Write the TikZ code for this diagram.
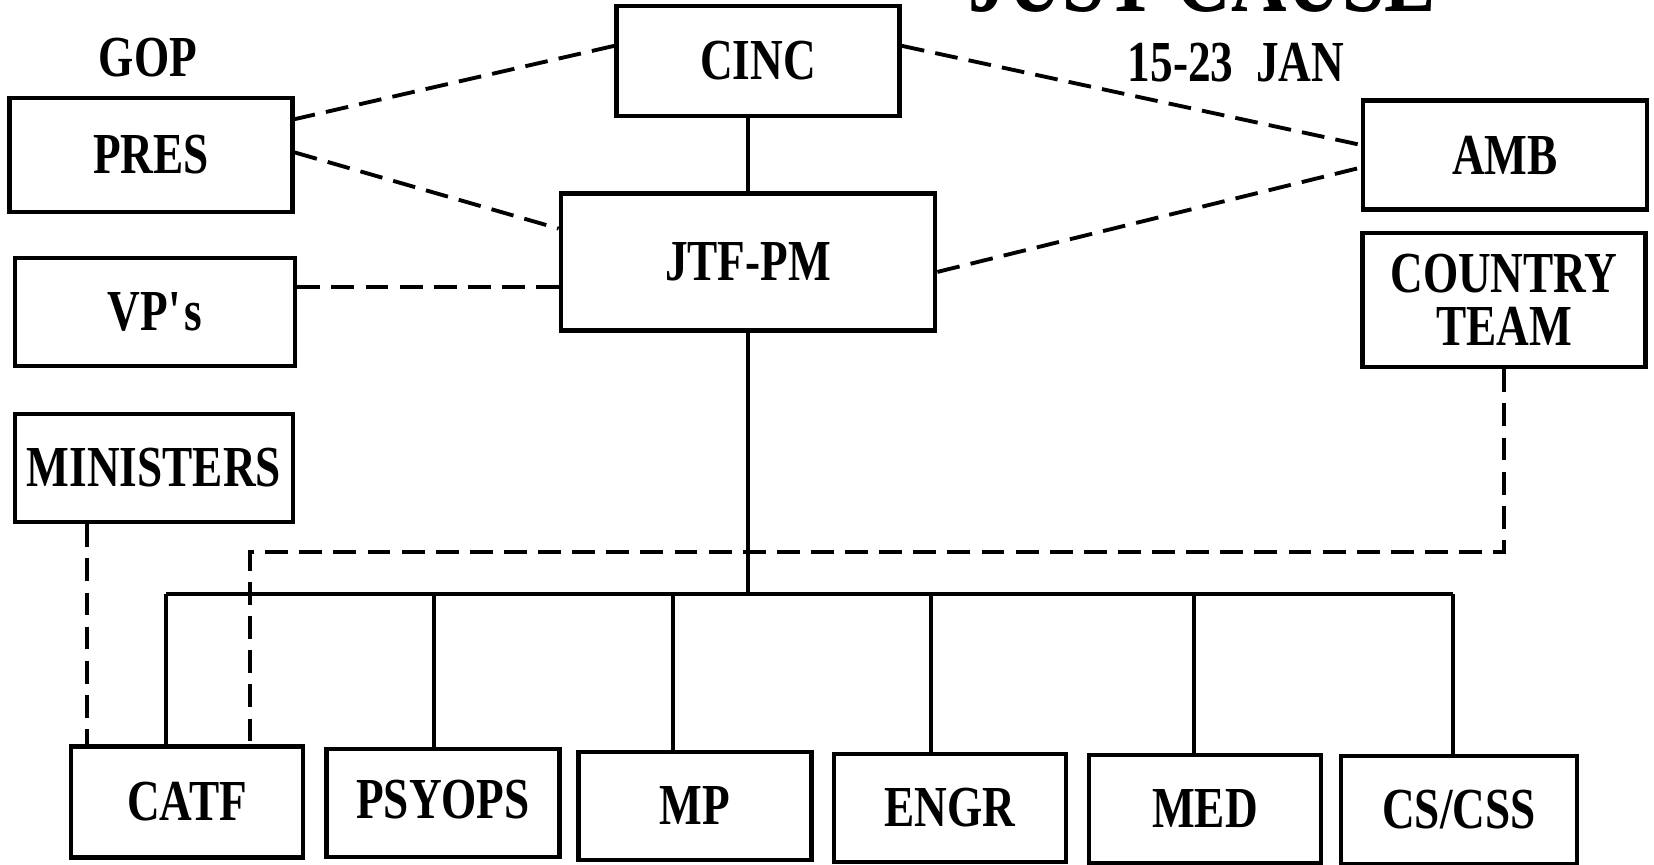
\documentclass[tikz,border=0pt]{standalone}
\usepackage{fontspec}
\setmainfont{Liberation Serif}[FakeStretch=0.78]
\usetikzlibrary{positioning}

\begin{document}
\begin{tikzpicture}[x=0.01cm, y=-0.01cm]
		\useasboundingbox (0,0) rectangle (1654,865);
		% labels
		\node[anchor=base west, inner sep=0pt, font=\bfseries\fontsize{28}{30}\selectfont] (title) at (968,12) {JUST CAUSE};
		\node[font=\bfseries\fontsize{16.5}{18}\selectfont] (gop) at (148,58) {GOP};
		\node[font=\bfseries\fontsize{16.5}{18}\selectfont] (date) at (1236,63) {15-23\ \ JAN};
		\begin{scope}[every node/.style={draw, line width=1.3pt, inner sep=0pt, align=center, minimum width=2.8cm, minimum height=1.08cm, font=\bfseries\fontsize{16.5}{15.2}\selectfont}]
			\node[minimum width=2.83cm, minimum height=1.10cm] (cinc) at (758,61) {CINC};
			\node[minimum width=2.83cm, minimum height=1.14cm] (pres) at (151,155) {PRES};
			\node (vps) at (155,312) {VP\textquotesingle s};
			\node[minimum width=2.78cm] (min) at (154,468) {MINISTERS};
			\node[minimum width=3.74cm, minimum height=1.37cm] (jtf) at (748,262) {JTF-PM};
			\node[minimum width=2.84cm, minimum height=1.09cm] (amb) at (1505,155) {AMB};
			\node[minimum width=2.83cm, minimum height=1.34cm] (ct) at (1504,300) {COUNTRY\\TEAM};
			\node[minimum width=2.32cm, minimum height=1.11cm] (catf) at (187,802) {CATF};
			\node[minimum width=2.33cm] (psyops) at (443,803) {\raisebox{2pt}{PSYOPS}};
			\node[minimum width=2.33cm] (mp) at (695,806) {MP};
			\node[minimum width=2.32cm] (engr) at (950,808) {ENGR};
			\node[minimum width=2.32cm] (med) at (1205,809) {MED};
			\node[minimum width=2.36cm] (css) at (1459,810) {CS/CSS};
		\end{scope}
		% command lines
		\begin{scope}[every path/.style={line width=1.2pt}]
			\coordinate (b1) at (166,594);
			\coordinate (b2) at (434,594);
			\coordinate (b3) at (673,594);
			\coordinate (b4) at (931,594);
			\coordinate (b5) at (1194,594);
			\coordinate (b6) at (1453,594);
			\draw (jtf.north) -- (jtf.north |- cinc.south);
			\draw (jtf.south) -- (jtf.south |- b1);
			\draw (b1) -- (b6);
			\draw (b1) -- (b1 |- catf.north);
			\draw (b2) -- (b2 |- psyops.north);
			\draw (b3) -- (b3 |- mp.north);
			\draw (b4) -- (b4 |- engr.north);
			\draw (b5) -- (b5 |- med.north);
			\draw (b6) -- (b6 |- css.north);
		\end{scope}
		% coordination lines
		\begin{scope}[every path/.style={line width=1.1pt, dash pattern=on 6.5pt off 3.2pt}]
			\coordinate (k) at (250,552);
			\path (cinc.174) edge (pres.14);
			\path (pres.1) edge (jtf.170);
			\path (vps.10) edge (vps.10 -| jtf.west);
			\path (cinc.6) edge (amb.176);
			\path (jtf.-3) edge (amb.185);
			\draw (ct.south) |- (k) -- (k |- catf.north);
			\draw (min.220) -- (min.220 |- catf.north);
		\end{scope}
	\end{tikzpicture}
\end{document}
